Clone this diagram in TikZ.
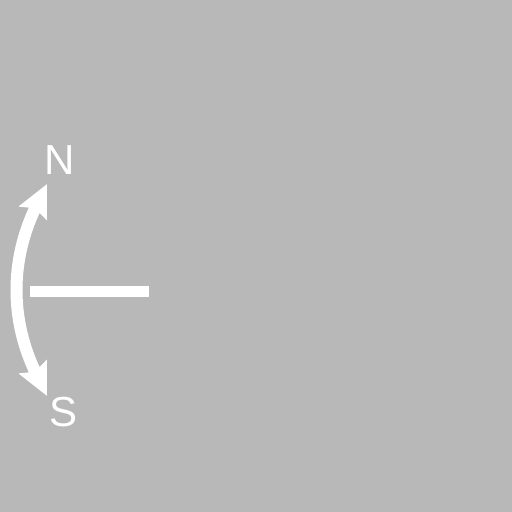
\documentclass[tikz,border=0pt]{standalone}
\usepackage{fontspec}
\setmainfont{Liberation Sans}
\usetikzlibrary{arrows.meta}
\definecolor{bg}{RGB}{184,184,184}
\tikzset{
  lbl/.style={text=white, font=\fontsize{42}{42}\selectfont, inner sep=0pt},
  twoway/.style={white, line width=12pt, {Stealth[length=32pt,width=30pt,inset=5pt]}-{Stealth[length=32pt,width=30pt,inset=5pt]}},
  bar/.style={white, line width=11pt}
}
\begin{document}
\begin{tikzpicture}[x=1pt,y=-1pt]
  \fill[bg] (0,0) rectangle (512,512);
  \useasboundingbox (0,0) rectangle (512,512);
  \node[lbl] (N) at (60,160) {N};
  \node[lbl] (S) at (64,412) {S};
  \coordinate (ntip) at (47,184);
  \coordinate (stip) at (47,396);
  \coordinate (b1) at (30,291);
  \coordinate (b2) at (149,291);
  \draw[twoway] (ntip) .. controls (10,260) and (10,320) .. (stip);
  \draw[bar] (b1) -- (b2);
\end{tikzpicture}
\end{document}
